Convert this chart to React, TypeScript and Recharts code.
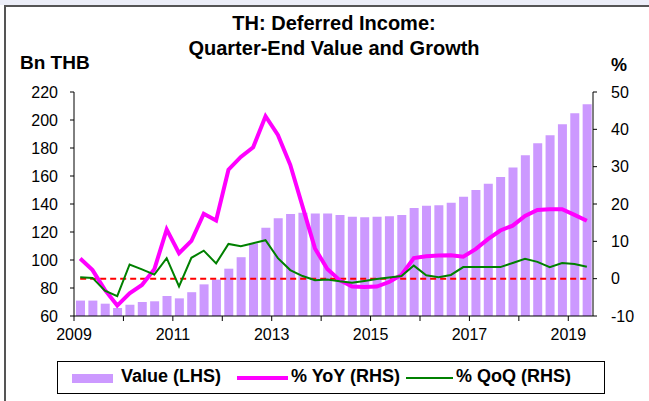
import { ComposedChart, Bar, Line, XAxis, YAxis, ReferenceLine } from 'recharts';

// quarters 2009Q1 .. 2019Q2
const years = [2009, 2010, 2011, 2012, 2013, 2014, 2015, 2016, 2017, 2018, 2019];
const quarters: string[] = [];
years.forEach((y) => [1, 2, 3, 4].forEach((q) => quarters.push(`${y}Q${q}`)));
quarters.length = 42;
const yearTicks = years.map((y) => `${y}Q1`);

// Bn THB
const valueLHS = [
  71, 71, 68.8, 65.7, 68, 70, 70.5, 74.3, 72.6, 77, 82.6, 86, 93.8, 102, 111.9, 123,
  129.8, 132.9, 133.8, 133.3, 133.3, 132.1, 130.9, 130.5, 130.9, 131.2, 132.1, 137.1,
  138.7, 139.1, 140.9, 145.2, 150, 154.5, 159.3, 166, 174.8, 183.4, 189.1, 197, 204.9, 211.3,
];

// %
const yoy = [
  5.4, 2.3, -3.0, -7.2, -3.9, -1.7, 2.5, 13.2, 6.8, 10.1, 17.4, 15.6, 29.2, 32.6, 35.2, 43.5,
  38.5, 30.5, 19.3, 8.1, 2.6, -0.4, -2.1, -2.2, -2.1, -0.9, 1.0, 5.5, 6.0, 6.2, 6.3, 5.9,
  7.9, 10.6, 12.9, 14.2, 16.8, 18.4, 18.6, 18.6, 17.1, 15.5,
];

const qoq = [
  0.4, 0.2, -3.2, -4.7, 3.8, 2.5, 1.1, 5.5, -2.1, 5.6, 7.5, 4.1, 9.3, 8.7, 9.5, 10.3,
  5.5, 2.3, 0.7, -0.4, -0.2, -0.7, -1.1, -0.6, -0.1, 0.3, 0.7, 3.5, 0.9, 0.4, 1.0, 3.1,
  3.1, 3.1, 3.1, 4.2, 5.3, 4.5, 3.1, 4.2, 3.9, 3.2,
];

const leftTicks = [60, 80, 100, 120, 140, 160, 180, 200, 220];
const rightTicks = [-10, 0, 10, 20, 30, 40, 50];

const data = quarters.map((q, i) => ({ q, value: valueLHS[i], yoy: yoy[i], qoq: qoq[i] }));

const font = '"Liberation Sans", Arial, sans-serif';
const tickStyle = { fill: '#000', fontSize: 16, fontFamily: font };

// year tick sits on the boundary between Q4 and Q1, label every other year
const YearTick = (props: any) => {
  const { x, y, payload } = props;
  const bx = x - (payload.offset || 0);
  const year = Number(String(payload.value).slice(0, 4));
  return (
    <g>
      <line x1={bx} x2={bx} y1={y} y2={y + 5} stroke="#000" />
      {year % 2 === 1 && (
        <text x={bx} y={y + 24} textAnchor="middle" {...tickStyle}>
          {year}
        </text>
      )}
    </g>
  );
};

export default function App() {
  return (
    <div style={{ position: 'absolute', left: 0, top: 0, width: 649, height: 401, background: '#fff', fontFamily: font, overflow: 'hidden' }}>
      <div style={{ position: 'absolute', left: 0, top: 0, width: 649, height: 5, background: '#eceef8' }} />
      <div style={{ position: 'absolute', left: 4, top: 5, width: 645, height: 396, borderTop: '2px solid #555', borderLeft: '2px solid #555' }} />

      <div style={{ position: 'absolute', left: 134, width: 400, top: 11, textAlign: 'center', fontWeight: 'bold', fontSize: 20, lineHeight: '25px' }}>
        TH: Deferred Income:
        <br />
        Quarter-End Value and Growth
      </div>
      <div style={{ position: 'absolute', left: 20, top: 52, fontWeight: 'bold', fontSize: 19 }}>Bn THB</div>
      <div style={{ position: 'absolute', left: 611, top: 55, fontWeight: 'bold', fontSize: 18 }}>%</div>

      <ComposedChart width={649} height={401} data={data} margin={{ top: 92, right: 6, bottom: 55, left: 14 }} style={{ position: 'absolute', left: 0, top: 0 }}>
        <XAxis
          xAxisId="q"
          dataKey="q"
          ticks={yearTicks}
          interval={0}
          height={30}
          tickSize={0}
          tickMargin={0}
          tickLine={false}
          tick={<YearTick />}
          axisLine={{ stroke: '#000' }}
        />
        <YAxis
          yAxisId="left"
          domain={[60, 220]}
          ticks={leftTicks}
          width={60}
          tickSize={4}
          tickMargin={12}
          tick={tickStyle}
          axisLine={{ stroke: '#000' }}
          tickLine={{ stroke: '#000' }}
        />
        <YAxis
          yAxisId="right"
          orientation="right"
          domain={[-10, 50]}
          ticks={rightTicks}
          width={50}
          tickSize={4}
          tickMargin={14}
          tick={{ ...tickStyle, textAnchor: 'start' }}
          axisLine={{ stroke: '#000' }}
          tickLine={{ stroke: '#000' }}
        />
        <Bar xAxisId="q" yAxisId="left" dataKey="value" fill="#cc99ff" barSize={9} isAnimationActive={false} />
        <ReferenceLine
          xAxisId="q"
          yAxisId="right"
          segment={[{ x: quarters[0], y: 0 }, { x: quarters[quarters.length - 1], y: 0 }]}
          stroke="#ff0000"
          strokeWidth={2}
          strokeDasharray="6 4"
        />
        <Line xAxisId="q" yAxisId="right" dataKey="yoy" stroke="#ff00ff" strokeWidth={4} dot={false} isAnimationActive={false} />
        <Line xAxisId="q" yAxisId="right" dataKey="qoq" stroke="#008000" strokeWidth={2} dot={false} isAnimationActive={false} />
      </ComposedChart>

      <div style={{ position: 'absolute', left: 57, top: 361, width: 548, height: 33, border: '1px solid #000', boxSizing: 'border-box', fontWeight: 'bold', fontSize: 18 }}>
        <div style={{ position: 'absolute', left: 14, top: 12, width: 41, height: 9, background: '#cc99ff' }} />
        <div style={{ position: 'absolute', left: 63, top: 4 }}>Value (LHS)</div>
        <div style={{ position: 'absolute', left: 179, top: 14, width: 51, height: 4, background: '#ff00ff' }} />
        <div style={{ position: 'absolute', left: 233, top: 4 }}>% YoY (RHS)</div>
        <div style={{ position: 'absolute', left: 348, top: 15, width: 47, height: 2, background: '#008000' }} />
        <div style={{ position: 'absolute', left: 398, top: 4 }}>% QoQ (RHS)</div>
      </div>
    </div>
  );
}
